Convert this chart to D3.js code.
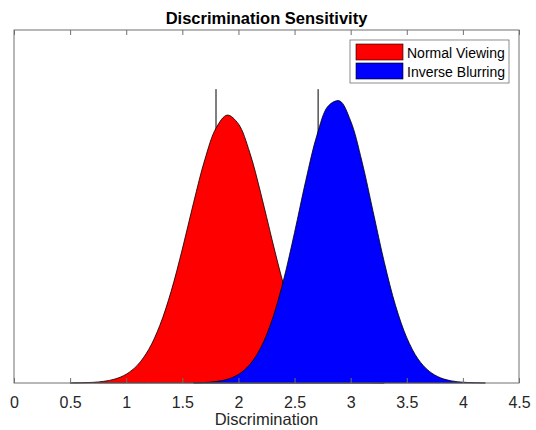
<!DOCTYPE html>
<html>
<head>
<meta charset="utf-8">
<script src="https://cdn.jsdelivr.net/npm/d3@7"></script>
<style>
  body { margin: 0; background: #fff; }
  text { font-family: "Liberation Sans", Arial, sans-serif; }
</style>
</head>
<body>
<div id="chart"></div>
<script>
// values
var redX = [0.5, 0.6, 0.7, 0.8, 0.9, 1.0, 1.1, 1.2, 1.3, 1.4, 1.5, 1.6, 1.7, 1.8, 1.9,
            2.0, 2.1, 2.2, 2.3, 2.4, 2.5, 2.6, 2.7, 2.8, 2.9, 3.0, 3.1, 3.2, 3.3];
var redY = [0.0003, 0.001, 0.0027, 0.0071, 0.017, 0.0375, 0.0763, 0.143, 0.247, 0.392,
            0.573, 0.771, 0.955, 1.090, 1.146, 1.108, 0.987, 0.810, 0.612, 0.425,
            0.272, 0.161, 0.0871, 0.0435, 0.020, 0.0085, 0.0033, 0.0012, 0.0004];

var blueX = [1.6, 1.7, 1.8, 1.9, 2.0, 2.1, 2.2, 2.3, 2.4, 2.5, 2.6, 2.7, 2.8, 2.9,
             3.0, 3.1, 3.2, 3.3, 3.4, 3.5, 3.6, 3.7, 3.8, 3.9, 4.0, 4.1, 4.2];
var blueY = [0.0007, 0.0022, 0.0061, 0.0157, 0.0367, 0.0784, 0.152, 0.270, 0.437,
             0.644, 0.866, 1.061, 1.185, 1.207, 1.121, 0.949, 0.733, 0.516, 0.331,
             0.194, 0.103, 0.0503, 0.0223, 0.009, 0.0033, 0.0011, 0.0003];

// marker lines (x position, height)
var markerX = [1.80, 2.71];
var markerH = 1.257;

var seriesNames = ['Normal Viewing', 'Inverse Blurring'];
var seriesColors = ['#ff0000', '#0000ff'];
var xTicks = [0, 0.5, 1, 1.5, 2, 2.5, 3, 3.5, 4, 4.5];

var W = 536, H = 430;
// note: "top" is taken by window.top, so prefix the margins
var mLeft = 14, mRight = 519, mTop = 30, mBottom = 383;
var axisColor = '#262626';
var boxColor = '#707070';

var svg = d3.select('#chart')
    .append('svg')
    .attr('width', W)
    .attr('height', H);

var x = d3.scaleLinear().domain([0, 4.5]).range([mLeft, mRight]);
var y = d3.scaleLinear().domain([0, 1.51]).range([mBottom, mTop]);

// vertical marker lines, drawn under the fills
svg.selectAll('.marker')
    .data(markerX)
    .enter().append('line')
    .attr('class', 'marker')
    .attr('x1', function (d) { return x(d); })
    .attr('x2', function (d) { return x(d); })
    .attr('y1', y(0))
    .attr('y2', y(markerH))
    .attr('stroke', '#000')
    .attr('stroke-width', 1);

var area = d3.area()
    .x(function (d) { return x(d[0]); })
    .y0(y(0))
    .y1(function (d) { return y(d[1]); })
    .curve(d3.curveCatmullRom);

var series = [d3.zip(redX, redY), d3.zip(blueX, blueY)];

svg.selectAll('.density')
    .data(series)
    .enter().append('path')
    .attr('class', 'density')
    .attr('d', function (d) { return area(d) + 'Z'; })
    .attr('fill', function (d, i) { return seriesColors[i]; })
    .attr('stroke', '#000')
    .attr('stroke-width', 0.8);

// axes: bottom and top ticks point inward
var xAxis = svg.append('g')
    .attr('transform', 'translate(0,' + mBottom + ')')
    .call(d3.axisBottom(x).tickValues(xTicks).tickSize(-5)
        .tickFormat(function (d) { return d3.format('')(d); }));
xAxis.select('.domain').remove();
xAxis.selectAll('line').attr('stroke', boxColor);
xAxis.selectAll('text')
    .attr('fill', axisColor)
    .style('font-size', '16px')
    .attr('dy', '0.71em')
    .attr('y', 14);

var topAxis = svg.append('g')
    .attr('transform', 'translate(0,' + mTop + ')')
    .call(d3.axisTop(x).tickValues(xTicks).tickSize(-5).tickFormat(''));
topAxis.select('.domain').remove();
topAxis.selectAll('line').attr('stroke', boxColor);

// axes box
svg.append('rect')
    .attr('x', mLeft).attr('y', mTop)
    .attr('width', mRight - mLeft).attr('height', mBottom - mTop)
    .attr('fill', 'none')
    .attr('stroke', boxColor)
    .attr('stroke-width', 1);

// title and label
svg.append('text')
    .attr('x', (mLeft + mRight) / 2)
    .attr('y', 24)
    .attr('text-anchor', 'middle')
    .style('font-size', '16.5px')
    .style('font-weight', 'bold')
    .attr('fill', '#000')
    .text('Discrimination Sensitivity');

svg.append('text')
    .attr('x', (mLeft + mRight) / 2)
    .attr('y', 425)
    .attr('text-anchor', 'middle')
    .style('font-size', '16.5px')
    .attr('fill', axisColor)
    .text('Discrimination');

// legend
var legend = svg.append('g').attr('transform', 'translate(350,40)');
legend.append('rect')
    .attr('width', 159).attr('height', 43)
    .attr('fill', '#fff')
    .attr('stroke', boxColor)
    .attr('stroke-width', 0.8);

var items = legend.selectAll('.item')
    .data(seriesNames)
    .enter().append('g')
    .attr('class', 'item')
    .attr('transform', function (d, i) { return 'translate(0,' + (4 + i * 19) + ')'; });

items.append('rect')
    .attr('x', 6).attr('width', 47).attr('height', 16)
    .attr('fill', function (d, i) { return seriesColors[i]; })
    .attr('stroke', '#000')
    .attr('stroke-width', 0.6);

items.append('text')
    .attr('x', 57).attr('y', 13.5)
    .style('font-size', '14px')
    .attr('fill', '#000')
    .text(function (d) { return d; });
</script>
</body>
</html>
